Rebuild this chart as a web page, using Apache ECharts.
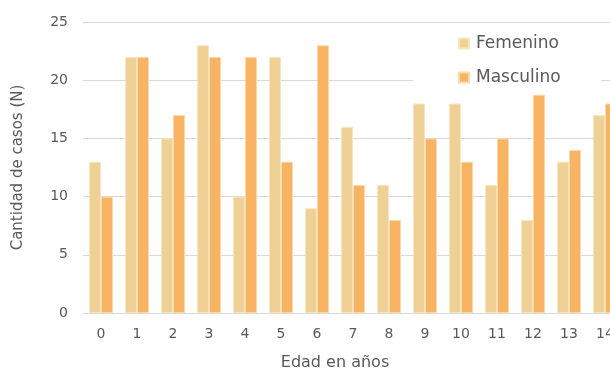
<!DOCTYPE html>
<html><head><meta charset="utf-8">
<script src="https://cdn.jsdelivr.net/npm/echarts@6/dist/echarts.min.js"></script>
<style>html,body{margin:0;padding:0;background:#fff}#c{width:610px;height:368px}</style>
</head><body><div id="c"></div>
<script>
const categories = ['0','1','2','3','4','5','6','7','8','9','10','11','12','13','14'];
const femenino = [13,22,15,23,10,22,9,16,11,18,18,11,8,13,17];
const masculino = [10,22,17,22,22,13,23,11,8,15,13,15,18.75,14,18];
const yTicks = [0,5,10,15,20,25];
const FONT = 'DejaVu Sans';
const chart = echarts.init(document.getElementById('c'), null, {renderer:'canvas'});
chart.setOption({
  animation:false,
  backgroundColor:'#fff',
  textStyle:{fontFamily:FONT},
  grid:{left:83, top:22, width:540, bottom:55, containLabel:false, outerBoundsMode:'none'},
  legend:{
    orient:'vertical', left:413, top:25, itemWidth:10, itemHeight:10, itemGap:17,
    icon:'rect', backgroundColor:'#fff', padding:[10,40,3,45], z:10,
    textStyle:{fontFamily:FONT, fontSize:17, color:'#595959', padding:[0,0,0,2]},
    data:['Femenino','Masculino']
  },
  xAxis:{
    type:'category', data:categories,
    name:'Edad en años', nameLocation:'middle', nameGap:42,
    nameTextStyle:{fontFamily:FONT, fontSize:16, color:'#595959', padding:[0,36,0,0]},
    axisLine:{lineStyle:{color:'#d9d9d9', width:1}},
    axisTick:{show:false},
    axisLabel:{fontFamily:FONT, fontSize:14, color:'#595959', margin:14, interval:0}
  },
  yAxis:{
    type:'value', min:0, max:25, interval:5,
    name:'Cantidad de casos (N)', nameLocation:'middle', nameGap:57,
    nameTextStyle:{fontFamily:FONT, fontSize:15, color:'#595959'},
    axisLine:{show:false}, axisTick:{show:false},
    axisLabel:{fontFamily:FONT, fontSize:14, color:'#595959', margin:15,
      formatter:v=>yTicks.includes(v)?String(v):''},
    splitLine:{lineStyle:{color:'#d9d9d9', width:1}}
  },
  series:[
    {name:'Femenino', type:'bar', data:femenino, barGap:'0%', barCategoryGap:'33%',
     itemStyle:{color:'#EFD196', borderColor:'#F8E6C2', borderWidth:1}},
    {name:'Masculino', type:'bar', data:masculino, barGap:'0%', barCategoryGap:'33%',
     itemStyle:{color:'#F8B463', borderColor:'#FBD9AE', borderWidth:1}}
  ]
});
</script></body></html>
